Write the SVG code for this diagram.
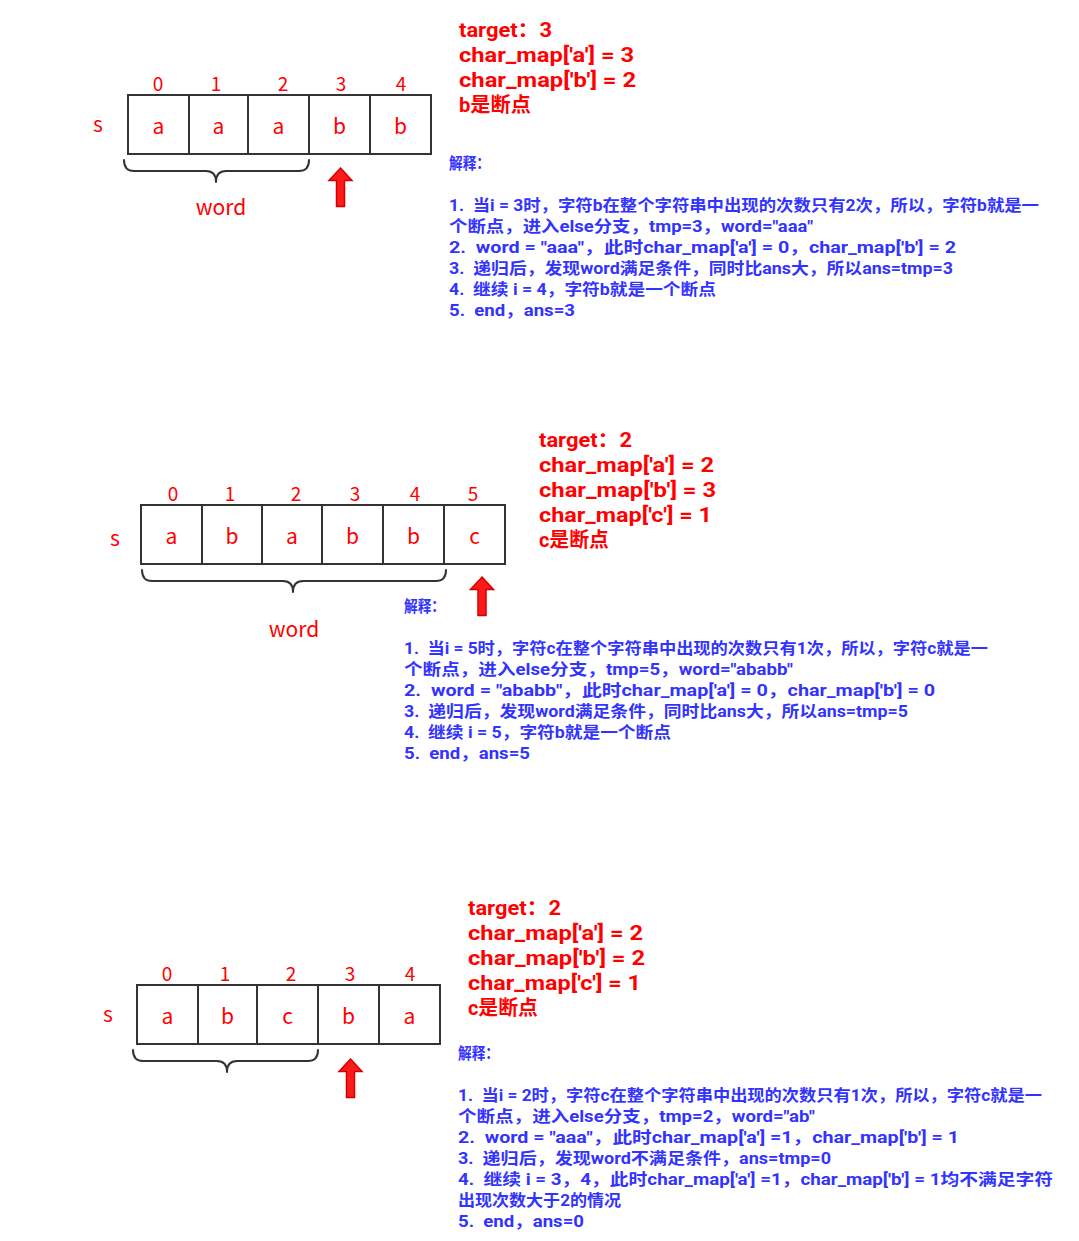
<svg xmlns="http://www.w3.org/2000/svg" width="1079" height="1241" viewBox="0 0 1079 1241">
  <style>
    .cell { fill: #ffffff; stroke: #333333; stroke-width: 2; }
    .ch { font-family: "Noto Sans CJK SC", "Liberation Sans", sans-serif; font-size: 21px; fill: #ff0000; text-anchor: middle; }
    .idx { font-family: "Noto Sans CJK SC", "Liberation Sans", sans-serif; font-size: 19px; fill: #ff0000; text-anchor: middle; }
    .lbl { font-family: "Noto Sans CJK SC", "Liberation Sans", sans-serif; font-size: 21px; fill: #ff0000; text-anchor: middle; }
    .brace { fill: none; stroke: #333333; stroke-width: 2; stroke-linecap: round; stroke-linejoin: round; }
    .note { font-family: Roboto, "Noto Sans CJK SC", sans-serif; font-size: 20px; font-weight: bold; fill: #ff0000; white-space: pre; }
    .expl { font-family: Roboto, "Noto Sans CJK SC", sans-serif; font-size: 16px; font-weight: bold; fill: #3333ff; white-space: pre; }
    .ptr { fill: #ff1a1a; stroke: #d40000; stroke-width: 1.5; stroke-linejoin: miter; }
  </style>
  <defs>
    <!-- upward pointer arrow, tip at origin -->
    <path id="upArrow" class="ptr" d="M0,0 L11.5,12.5 L4,12.5 L4,38.5 L-4,38.5 L-4,12.5 L-11.5,12.5 Z"/>
  </defs>
  <rect width="1079" height="1241" fill="#ffffff"/>

  <!-- ===== case 1: s = "aaabb" ===== -->
  <g id="array1">
    <text class="lbl" x="98" y="132">s</text>
    <g class="idx">
      <text x="158" y="91">0</text>
      <text x="216" y="91">1</text>
      <text x="283" y="91">2</text>
      <text x="341" y="91">3</text>
      <text x="401" y="91">4</text>
    </g>
    <rect class="cell" x="128" y="95" width="61" height="59"/>
    <rect class="cell" x="189" y="95" width="59" height="59"/>
    <rect class="cell" x="248" y="95" width="61" height="59"/>
    <rect class="cell" x="309" y="95" width="61" height="59"/>
    <rect class="cell" x="370" y="95" width="61" height="59"/>
    <g class="ch">
      <text x="158.5" y="134">a</text>
      <text x="218.5" y="134">a</text>
      <text x="278.5" y="134">a</text>
      <text x="339.5" y="134">b</text>
      <text x="400.5" y="134">b</text>
    </g>
  </g>
  <g id="word1">
    <path class="brace" d="M124,160 Q124,171 134,171 L206,171 Q216,171 216,182 Q216,171 226,171 L299,171 Q309,171 309,160"/>
    <text class="lbl" x="221" y="215">word</text>
  </g>
  <g id="notes1">
    <text class="note" x="459" y="37" textLength="93" lengthAdjust="spacingAndGlyphs">target：3</text>
    <text class="note" x="459" y="62" textLength="175" lengthAdjust="spacingAndGlyphs">char_map['a'] = 3</text>
    <text class="note" x="459" y="87" textLength="177" lengthAdjust="spacingAndGlyphs">char_map['b'] = 2</text>
    <text class="note" x="459" y="112" textLength="72" lengthAdjust="spacingAndGlyphs">b是断点</text>
  </g>
  <g id="explain1">
    <text class="expl" x="449" y="169" textLength="41" lengthAdjust="spacingAndGlyphs">解释：</text>
    <text class="expl" x="449" y="211" textLength="590" lengthAdjust="spacingAndGlyphs">1.  当i = 3时，字符b在整个字符串中出现的次数只有2次，所以，字符b就是一</text>
    <text class="expl" x="449" y="232" textLength="364" lengthAdjust="spacingAndGlyphs">个断点，进入else分支，tmp=3，word="aaa"</text>
    <text class="expl" x="449" y="253" textLength="507" lengthAdjust="spacingAndGlyphs">2.  word = "aaa"，此时char_map['a'] = 0，char_map['b'] = 2</text>
    <text class="expl" x="449" y="274" textLength="504" lengthAdjust="spacingAndGlyphs">3.  递归后，发现word满足条件，同时比ans大，所以ans=tmp=3</text>
    <text class="expl" x="449" y="295" textLength="267" lengthAdjust="spacingAndGlyphs">4.  继续 i = 4，字符b就是一个断点</text>
    <text class="expl" x="449" y="316" textLength="126" lengthAdjust="spacingAndGlyphs">5.  end，ans=3</text>
  </g>

  <!-- ===== case 2: s = "ababbc" ===== -->
  <g id="array2">
    <text class="lbl" x="115" y="546">s</text>
    <g class="idx">
      <text x="173" y="501">0</text>
      <text x="230" y="501">1</text>
      <text x="296" y="501">2</text>
      <text x="355" y="501">3</text>
      <text x="415" y="501">4</text>
      <text x="473" y="501">5</text>
    </g>
    <rect class="cell" x="141" y="505" width="61" height="59"/>
    <rect class="cell" x="202" y="505" width="60" height="59"/>
    <rect class="cell" x="262" y="505" width="60" height="59"/>
    <rect class="cell" x="322" y="505" width="61" height="59"/>
    <rect class="cell" x="383" y="505" width="61" height="59"/>
    <rect class="cell" x="444" y="505" width="61" height="59"/>
    <g class="ch">
      <text x="171.5" y="544">a</text>
      <text x="232" y="544">b</text>
      <text x="292" y="544">a</text>
      <text x="352.5" y="544">b</text>
      <text x="413.5" y="544">b</text>
      <text x="474.5" y="544">c</text>
    </g>
  </g>
  <g id="word2">
    <path class="brace" d="M142,570 Q142,581 152,581 L283,581 Q293,581 293,592 Q293,581 303,581 L436,581 Q446,581 446,570"/>
    <text class="lbl" x="294" y="637">word</text>
  </g>
  <g id="notes2">
    <text class="note" x="539" y="447" textLength="93" lengthAdjust="spacingAndGlyphs">target：2</text>
    <text class="note" x="539" y="472" textLength="175" lengthAdjust="spacingAndGlyphs">char_map['a'] = 2</text>
    <text class="note" x="539" y="497" textLength="177" lengthAdjust="spacingAndGlyphs">char_map['b'] = 3</text>
    <text class="note" x="539" y="522" textLength="173" lengthAdjust="spacingAndGlyphs">char_map['c'] = 1</text>
    <text class="note" x="539" y="547" textLength="70" lengthAdjust="spacingAndGlyphs">c是断点</text>
  </g>
  <g id="explain2">
    <text class="expl" x="404" y="612" textLength="41" lengthAdjust="spacingAndGlyphs">解释：</text>
    <text class="expl" x="404" y="654" textLength="584" lengthAdjust="spacingAndGlyphs">1.  当i = 5时，字符c在整个字符串中出现的次数只有1次，所以，字符c就是一</text>
    <text class="expl" x="404" y="675" textLength="389" lengthAdjust="spacingAndGlyphs">个断点，进入else分支，tmp=5，word="ababb"</text>
    <text class="expl" x="404" y="696" textLength="531" lengthAdjust="spacingAndGlyphs">2.  word = "ababb"，此时char_map['a'] = 0，char_map['b'] = 0</text>
    <text class="expl" x="404" y="717" textLength="504" lengthAdjust="spacingAndGlyphs">3.  递归后，发现word满足条件，同时比ans大，所以ans=tmp=5</text>
    <text class="expl" x="404" y="738" textLength="267" lengthAdjust="spacingAndGlyphs">4.  继续 i = 5，字符b就是一个断点</text>
    <text class="expl" x="404" y="759" textLength="126" lengthAdjust="spacingAndGlyphs">5.  end，ans=5</text>
  </g>

  <!-- ===== case 3: s = "abcba" ===== -->
  <g id="array3">
    <text class="lbl" x="108" y="1022">s</text>
    <g class="idx">
      <text x="167" y="981">0</text>
      <text x="225" y="981">1</text>
      <text x="291" y="981">2</text>
      <text x="350" y="981">3</text>
      <text x="410" y="981">4</text>
    </g>
    <rect class="cell" x="137" y="985" width="61" height="59"/>
    <rect class="cell" x="198" y="985" width="59" height="59"/>
    <rect class="cell" x="257" y="985" width="61" height="59"/>
    <rect class="cell" x="318" y="985" width="61" height="59"/>
    <rect class="cell" x="379" y="985" width="61" height="59"/>
    <g class="ch">
      <text x="167.5" y="1024">a</text>
      <text x="227.5" y="1024">b</text>
      <text x="287.5" y="1024">c</text>
      <text x="348.5" y="1024">b</text>
      <text x="409.5" y="1024">a</text>
    </g>
  </g>
  <g id="word3">
    <path class="brace" d="M133,1050 Q133,1061 143,1061 L217,1061 Q227,1061 227,1072 Q227,1061 237,1061 L308,1061 Q318,1061 318,1050"/>
  </g>
  <g id="notes3">
    <text class="note" x="468" y="915" textLength="93" lengthAdjust="spacingAndGlyphs">target：2</text>
    <text class="note" x="468" y="940" textLength="175" lengthAdjust="spacingAndGlyphs">char_map['a'] = 2</text>
    <text class="note" x="468" y="965" textLength="177" lengthAdjust="spacingAndGlyphs">char_map['b'] = 2</text>
    <text class="note" x="468" y="990" textLength="173" lengthAdjust="spacingAndGlyphs">char_map['c'] = 1</text>
    <text class="note" x="468" y="1015" textLength="70" lengthAdjust="spacingAndGlyphs">c是断点</text>
  </g>
  <g id="explain3">
    <text class="expl" x="458" y="1059" textLength="41" lengthAdjust="spacingAndGlyphs">解释：</text>
    <text class="expl" x="458" y="1101" textLength="584" lengthAdjust="spacingAndGlyphs">1.  当i = 2时，字符c在整个字符串中出现的次数只有1次，所以，字符c就是一</text>
    <text class="expl" x="458" y="1122" textLength="357" lengthAdjust="spacingAndGlyphs">个断点，进入else分支，tmp=2，word="ab"</text>
    <text class="expl" x="458" y="1143" textLength="501" lengthAdjust="spacingAndGlyphs">2.  word = "aaa"，此时char_map['a'] =1，char_map['b'] = 1</text>
    <text class="expl" x="458" y="1164" textLength="373" lengthAdjust="spacingAndGlyphs">3.  递归后，发现word不满足条件，ans=tmp=0</text>
    <text class="expl" x="458" y="1185" textLength="595" lengthAdjust="spacingAndGlyphs">4.  继续 i = 3，4，此时char_map['a'] =1，char_map['b'] = 1均不满足字符</text>
    <text class="expl" x="458" y="1206" textLength="163" lengthAdjust="spacingAndGlyphs">出现次数大于2的情况</text>
    <text class="expl" x="458" y="1227" textLength="126" lengthAdjust="spacingAndGlyphs">5.  end，ans=0</text>
  </g>

  <!-- pointer arrows marking the break character -->
  <g id="pointers">
    <use href="#upArrow" x="340.5" y="168"/>
    <use href="#upArrow" x="482" y="577"/>
    <use href="#upArrow" x="350.5" y="1059"/>
  </g>
</svg>
